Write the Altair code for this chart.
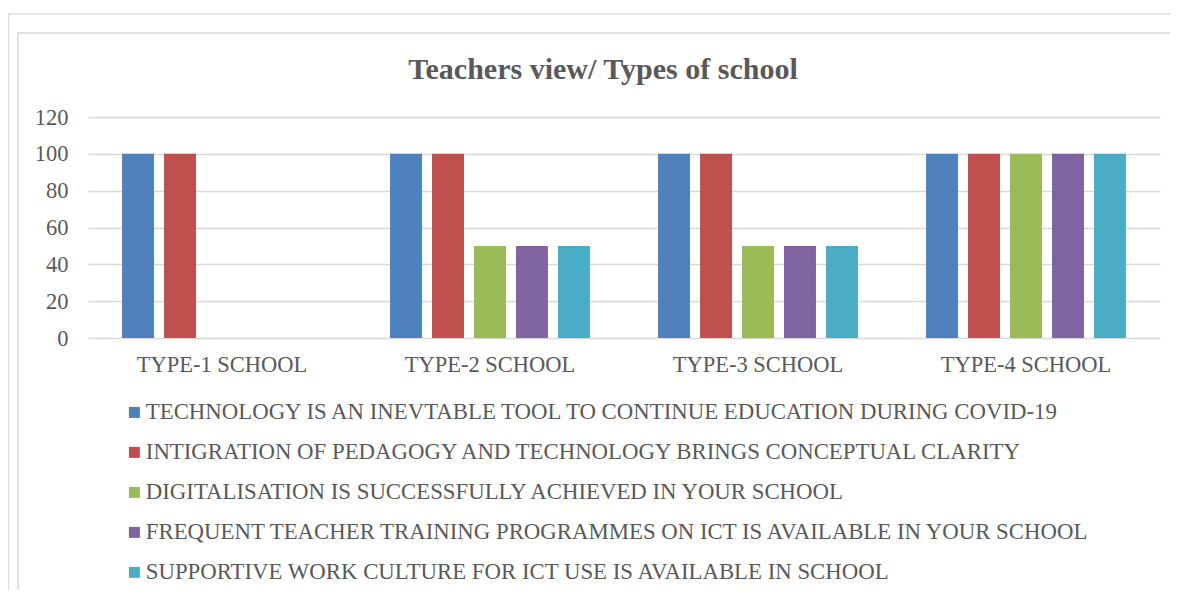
import altair as alt
import pandas as pd

categories = ["TYPE-1 SCHOOL", "TYPE-2 SCHOOL", "TYPE-3 SCHOOL", "TYPE-4 SCHOOL"]
series = [
    "TECHNOLOGY IS AN INEVTABLE TOOL TO CONTINUE EDUCATION DURING COVID-19",
    "INTIGRATION OF PEDAGOGY AND TECHNOLOGY BRINGS CONCEPTUAL CLARITY",
    "DIGITALISATION IS SUCCESSFULLY ACHIEVED IN YOUR SCHOOL",
    "FREQUENT TEACHER TRAINING PROGRAMMES ON ICT IS AVAILABLE IN YOUR SCHOOL",
    "SUPPORTIVE WORK CULTURE FOR ICT USE IS AVAILABLE IN SCHOOL",
]
s1 = [100, 100, 100, 100]
s2 = [100, 100, 100, 100]
s3 = [0, 50, 50, 100]
s4 = [0, 50, 50, 100]
s5 = [0, 50, 50, 100]
colors = ["#4F81BD", "#C0504D", "#9BBB59", "#8064A2", "#4BACC6"]
y_ticks = [0, 20, 40, 60, 80, 100, 120]
title_text = "Teachers view/ Types of school"

rows = []
for si, vals in enumerate([s1, s2, s3, s4, s5]):
    for ci, v in enumerate(vals):
        rows.append({"cat": categories[ci], "series": series[si], "order": si, "value": v})
df = pd.DataFrame(rows)

FONT = "Liberation Serif"
GREY = "#595959"
W, H = 1072, 221

bars = alt.Chart(df).mark_bar().encode(
    x=alt.X("cat:N", sort=categories, title=None,
            scale=alt.Scale(paddingInner=0.254, paddingOuter=0.127),
            axis=alt.Axis(labelAngle=0, labelFontSize=22.5, labelColor=GREY, labelFont=FONT,
                          ticks=False, domain=False, labelPadding=15)),
    xOffset=alt.XOffset("series:N", sort=series,
                        scale=alt.Scale(paddingInner=0.238, paddingOuter=0)),
    y=alt.Y("value:Q", title=None,
            scale=alt.Scale(domain=[0, 120], nice=False),
            axis=alt.Axis(values=y_ticks, labelFontSize=22.5, labelColor=GREY, labelFont=FONT,
                          ticks=False, domain=False, labelPadding=20,
                          gridColor="#d9d9d9", gridWidth=1.3)),
    color=alt.Color("series:N", sort=series,
                    scale=alt.Scale(domain=series, range=colors),
                    legend=alt.Legend(title=None, orient="none", legendX=35, legendY=284,
                                      direction="vertical", symbolType="square",
                                      symbolSize=121, symbolStrokeWidth=0,
                                      labelFontSize=22.8, labelFont=FONT, labelColor=GREY,
                                      labelOffset=0, rowPadding=16, labelLimit=1100)),
)

frame_df = pd.DataFrame({"k": [0]})
inner_frame = alt.Chart(frame_df).mark_rect(fill=None, stroke="#d9d9d9", strokeWidth=1.5).encode(
    x=alt.value(18 - 88), x2=alt.value(1200 - 88),
    y=alt.value(33 - 117), y2=alt.value(700 - 117))
outer_frame = alt.Chart(frame_df).mark_rect(fill=None, stroke="#e0e0e0", strokeWidth=1.5).encode(
    x=alt.value(8.5 - 88), x2=alt.value(1200 - 88),
    y=alt.value(14 - 117), y2=alt.value(700 - 117))
title = alt.Chart(pd.DataFrame({"t": [title_text]})).mark_text(
    font=FONT, fontSize=30, fontWeight="bold", color=GREY, align="center", baseline="alphabetic"
).encode(text="t:N", x=alt.value(603 - 88), y=alt.value(79 - 117))

chart = alt.layer(outer_frame, inner_frame, title, bars).properties(
    width=W, height=H,
    padding={"left": 80, "top": 109, "right": 10, "bottom": 252},
    autosize=alt.AutoSizeParams(type="none"),
).configure_view(stroke=None).configure_axisX(grid=False)

chart.save("out.html", embed_options={"renderer": "svg", "actions": False})
